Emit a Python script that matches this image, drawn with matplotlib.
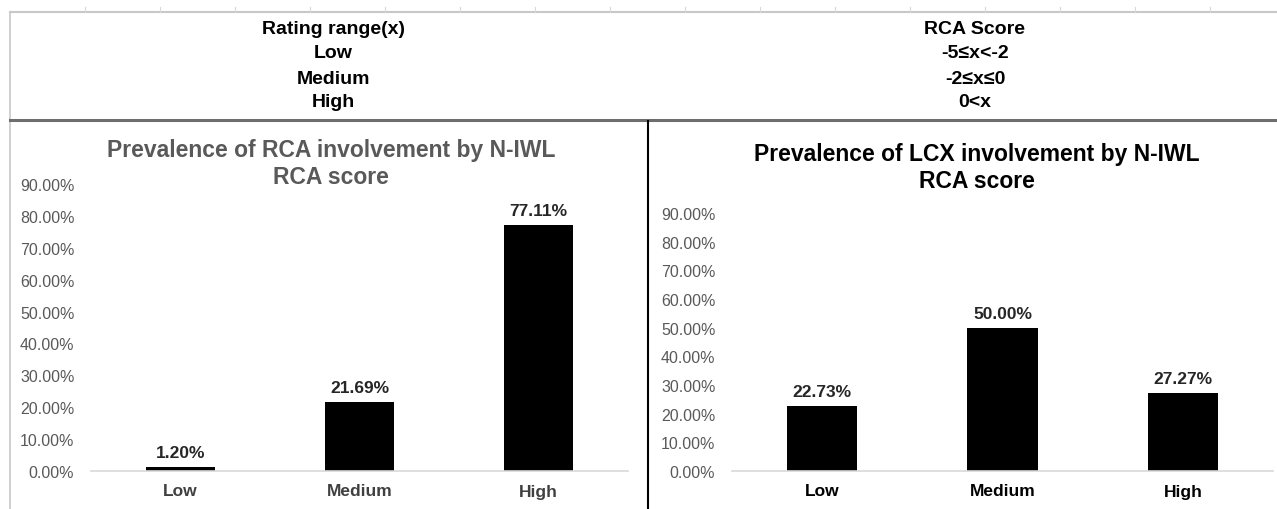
import matplotlib
matplotlib.use("Agg")
import matplotlib.pyplot as plt
from matplotlib.lines import Line2D
from matplotlib.ticker import FuncFormatter

plt.rcParams['font.family'] = ['Liberation Sans', 'DejaVu Sans']

# score categories and prevalence values
categories = ['Low', 'Medium', 'High']
rca_values = [0.0120, 0.2169, 0.7711]
lcx_values = [0.2273, 0.5000, 0.2727]
y_ticks = [0.0, 0.1, 0.2, 0.3, 0.4, 0.5, 0.6, 0.7, 0.8, 0.9]

# rating table shown above the charts
table_left = ['Rating range(x)', 'Low', 'Medium', 'High']
table_right = ['RCA Score', '-5\u2264x<-2', '-2\u2264x\u22640', '0<x']

W, H = 1277, 510
fig = plt.figure(figsize=(W / 100, H / 100), dpi=100)
fig.patch.set_facecolor('white')


def fx(px):
    return px / W


def fy(py):
    return 1 - py / H


# sheet grid lines and borders
fig.add_artist(Line2D([fx(10), fx(1277)], [fy(13), fy(13)], color='#c8c8c8', lw=1.5))
for gx in range(85, 1277, 75):
    fig.add_artist(Line2D([fx(gx), fx(gx)], [fy(8), fy(13)], color='#d8d8d8', lw=0.8))
fig.add_artist(Line2D([fx(10), fx(10)], [fy(13), fy(510)], color='#c8c8c8', lw=1.2))
fig.add_artist(Line2D([fx(10), fx(1277)], [fy(121), fy(121)], color='#6e6e6e', lw=2.2))
fig.add_artist(Line2D([fx(648), fx(648)], [fy(122), fy(510)], color='black', lw=1.5))

row_y = [29, 53, 79, 103]
for txt, ry in zip(table_left, row_y):
    fig.text(fx(333), fy(ry), txt, ha='center', va='center', fontsize=14,
             fontweight='bold', color='black')
for txt, ry in zip(table_right, row_y):
    fig.text(fx(975), fy(ry), txt, ha='center', va='center', fontsize=14,
             fontweight='bold', color='black')


def draw_chart(rect, values, title_color, label_color, title_x, title_y, title):
    ax = fig.add_axes(rect)
    x = range(len(categories))
    ax.bar(x, values, width=0.39, color='black')
    ax.set_xlim(-0.5, 2.5)
    ax.set_ylim(0, 0.9)
    ax.set_yticks(y_ticks)
    ax.yaxis.set_major_formatter(FuncFormatter(lambda v, p: f'{v * 100:.2f}%'))
    ax.set_xticks(list(x))
    ax.set_xticklabels(categories, fontsize=12.5, fontweight='bold', color=label_color)
    ax.tick_params(axis='y', length=0, labelsize=11.5, labelcolor='#595959', pad=12)
    ax.tick_params(axis='x', length=0, pad=9)
    for s in ['top', 'right', 'left']:
        ax.spines[s].set_visible(False)
    ax.spines['bottom'].set_color('#d9d9d9')
    ax.spines['bottom'].set_linewidth(1.2)
    for xi, v in zip(x, values):
        ax.annotate(f'{v * 100:.2f}%', (xi, v), xytext=(0, 5), textcoords='offset points',
                    ha='center', va='bottom', fontsize=12.5, fontweight='bold',
                    color='#262626')
    for line, ty in zip(title, title_y):
        fig.text(fx(title_x), fy(ty), line, ha='center', va='center',
                 fontsize=16.5, fontweight='bold', color=title_color)
    return ax


draw_chart([fx(91), fy(472), fx(628 - 91), (472 - 185) / H], rca_values,
           '#595959', '#404040', 331, (150, 177),
           ['Prevalence of RCA involvement by N-IWL', 'RCA score'])
draw_chart([fx(732), fy(472), fx(1273 - 732), (472 - 214) / H], lcx_values,
           'black', 'black', 977, (154, 181),
           ['Prevalence of LCX involvement by N-IWL', 'RCA score'])

fig.savefig('out.png', dpi=100)
